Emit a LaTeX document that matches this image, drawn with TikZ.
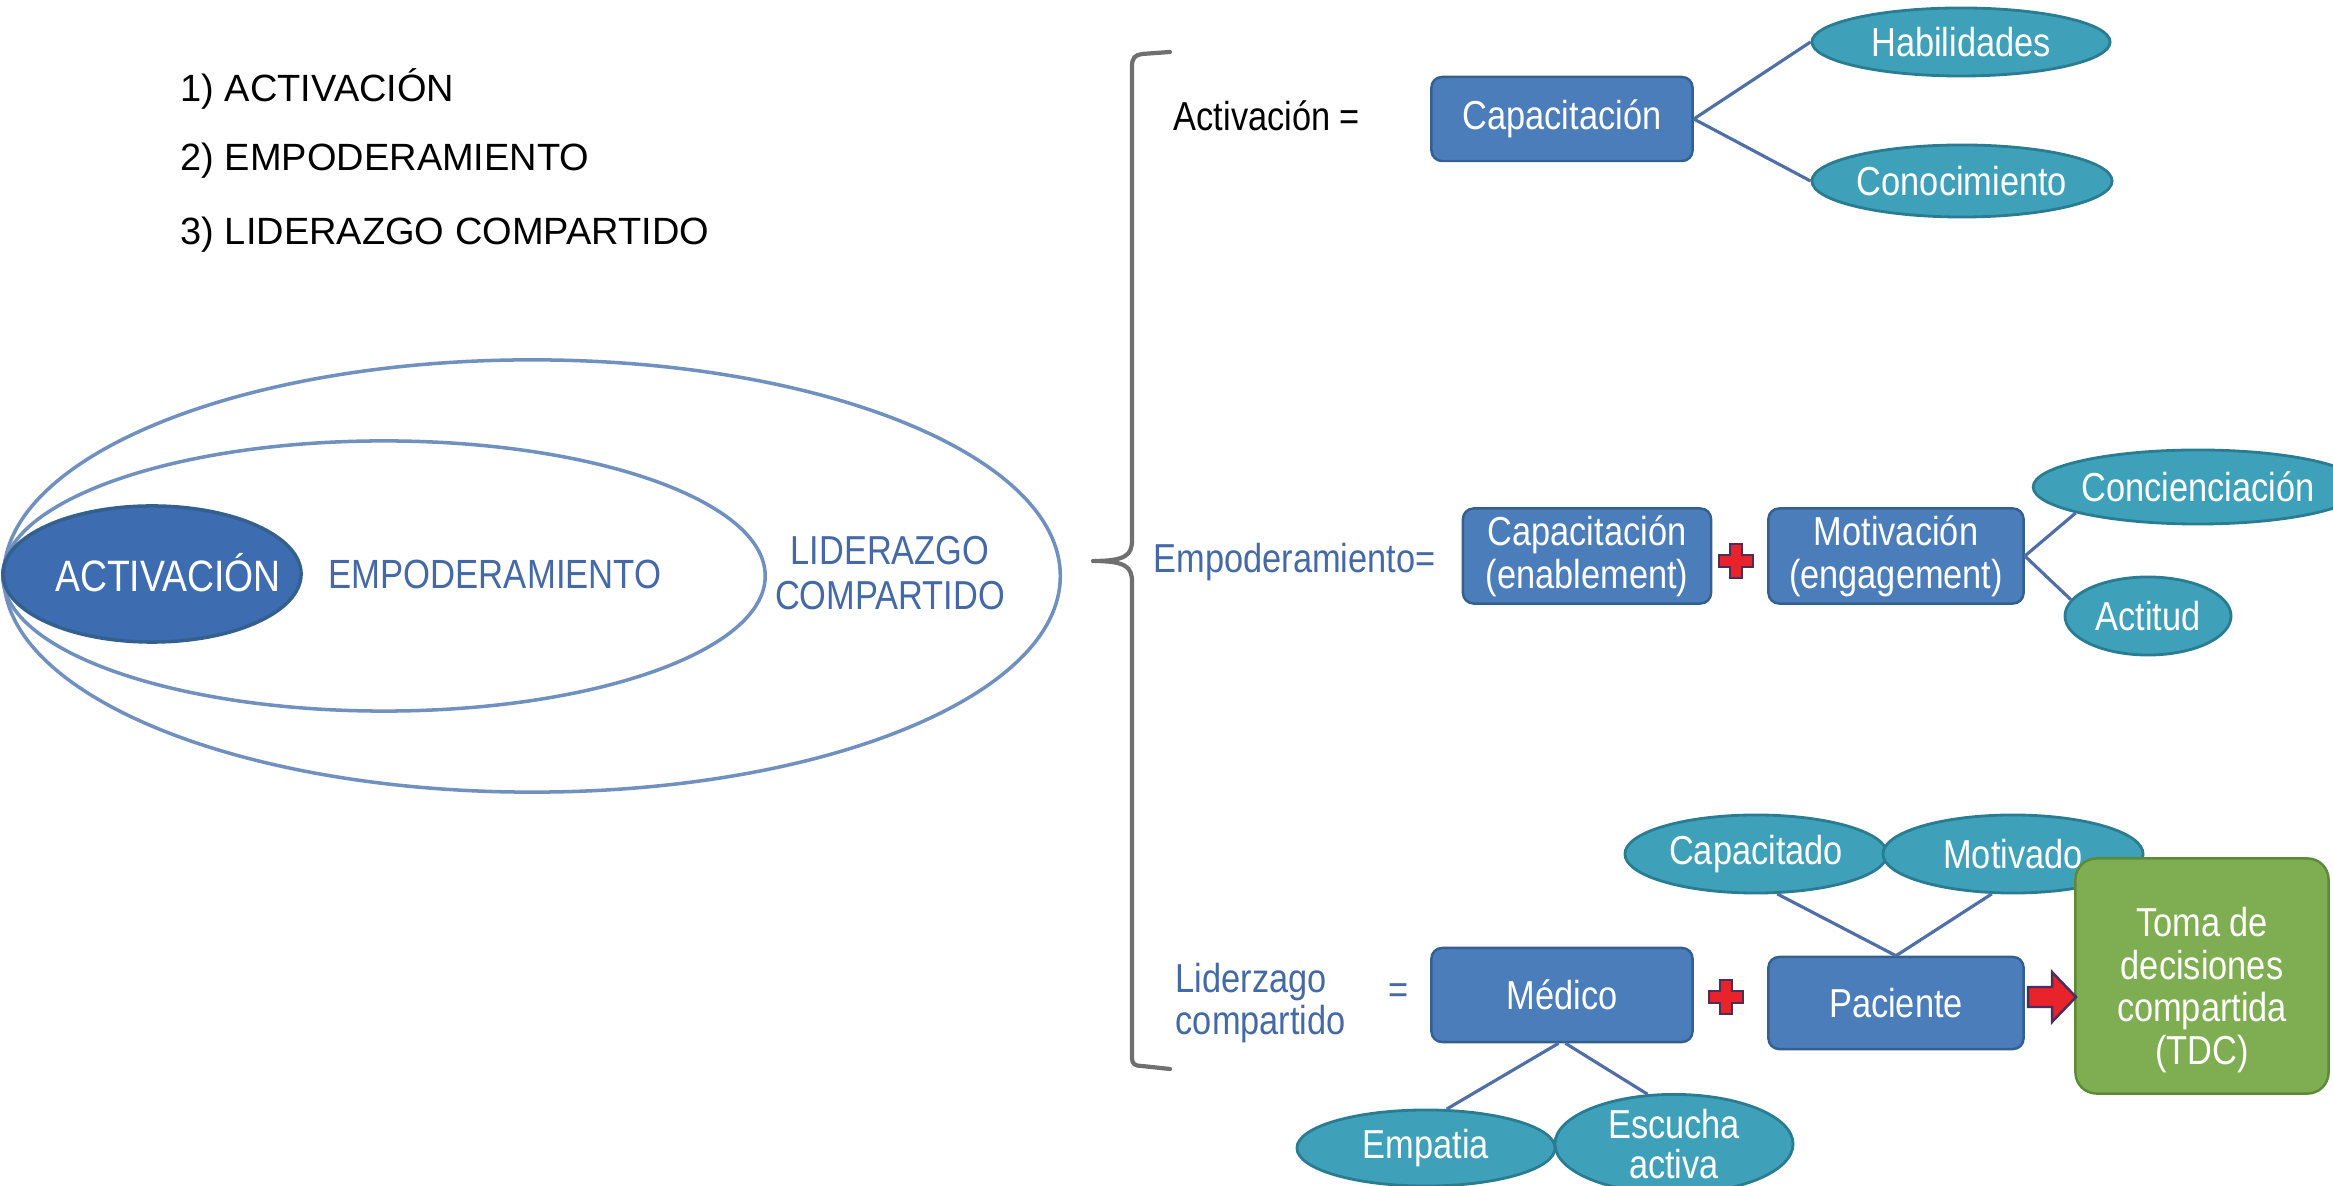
\documentclass[tikz,border=0pt]{standalone}
\usepackage{fontspec}
\setmainfont{Liberation Sans}
\newfontfamily\nf{Liberation Sans}[FakeStretch=0.85]
\usetikzlibrary{shapes.geometric}
\definecolor{boxblue}{HTML}{4A7DBA}
\definecolor{boxedge}{HTML}{34608F}
\definecolor{tealfill}{HTML}{3FA1B9}
\definecolor{tealedge}{HTML}{2A7C92}
\definecolor{linec}{HTML}{4F6FA6}
\definecolor{ringc}{HTML}{7090BF}
\definecolor{actfill}{HTML}{3D6CB0}
\definecolor{txtblue}{HTML}{4469A6}
\definecolor{greenfill}{HTML}{7FAE52}
\definecolor{greenedge}{HTML}{5C8A38}
\definecolor{bracec}{HTML}{707070}
\definecolor{plusred}{HTML}{E8232B}
\definecolor{plusedge}{HTML}{4A2F5C}
\tikzset{
  rfont/.style={font=\nf\fontsize{11.5}{12.3}\selectfont},
  bluebox/.style={rectangle, draw=boxedge, line width=0.7pt, fill=boxblue, rounded corners=3pt,
    text=white, rfont, align=center, inner sep=0pt},
  greenbox/.style={bluebox, draw=greenedge, fill=greenfill},
  tealell/.style={ellipse, draw=tealedge, line width=0.8pt, fill=tealfill, text=white, rfont,
    align=center, inner sep=0pt},
  ring/.style={ellipse, draw=ringc, line width=1pt, inner sep=0pt},
  link/.style={draw=linec, line width=0.9pt},
  plusst/.style={fill=plusred, draw=plusedge, line width=0.7pt, line join=miter},
  listtxt/.style={anchor=west, font=\fontsize{10.8}{12}\selectfont, inner sep=0pt},
  bluetxt/.style={text=txtblue, rfont, inner sep=0pt}
}
\begin{document}
\begin{tikzpicture}[x=0.01cm,y=-0.01cm]
\useasboundingbox (0,0) rectangle (2333,1186);
% list
\node[listtxt] (l1) at (180,89) {1) ACTIVACIÓN};
\node[listtxt] (l2) at (180,161) {2) EMPODERAMIENTO};
\node[listtxt] (l3) at (180,235) {3) LIDERAZGO COMPARTIDO};
% rings
\node[ring, minimum width=10.56cm, minimum height=4.32cm] (ringL) at (532,576) {};
\node[ring, minimum width=7.62cm, minimum height=2.70cm] (ringE) at (384,576) {};
\node[ring, fill=actfill, draw=boxedge, minimum width=2.98cm, minimum height=1.36cm] (ringA) at (152,574) {};
\node[text=white, font=\nf\fontsize{12.5}{14}\selectfont, inner sep=0pt] (tA) at (168,573) {ACTIVACIÓN};
\node[bluetxt, font=\nf\fontsize{11.6}{14}\selectfont] (tE) at (495,574) {EMPODERAMIENTO};
\node[bluetxt, font=\nf\fontsize{11.5}{12.8}\selectfont, align=center] (tL) at (890,573) {LIDERAZGO\\COMPARTIDO};
% brace
\draw[bracec, line width=1.2pt, line join=round, line cap=round]
  (1170,52) -- (1142,54) .. controls (1135,55) and (1132,58) .. (1132,66) -- (1132,540)
  .. controls (1132,555) and (1126,561) .. (1093,561)
  .. controls (1126,561) and (1132,567) .. (1132,582)
  -- (1132,1058) .. controls (1132,1064) and (1135,1066) .. (1142,1066) -- (1170,1069);
% row 1
\node[anchor=west, rfont, inner sep=0pt] (ract) at (1173,116) {Activación =};
\node[bluebox, minimum width=2.61cm, minimum height=0.84cm] (cap1) at (1562,119) {Capacitación};
\node[tealell, minimum width=2.98cm, minimum height=0.68cm] (hab) at (1961,42) {Habilidades};
\node[tealell, minimum width=3.0cm, minimum height=0.72cm] (con) at (1962,181) {Conocimiento};
\draw[link] (cap1.east) -- (hab.west);
\draw[link] (cap1.east) -- (con.west);
% row 2
\node[bluetxt, anchor=west] (remp) at (1153,562) {Empoderamiento=};
\node[bluebox, minimum width=2.48cm, minimum height=0.95cm] (cap2) at (1587,556) {Capacitación\\(enablement)};
\node[bluebox, minimum width=2.55cm, minimum height=0.95cm] (mot) at (1896,556) {Motivación\\(engagement)};
\node[tealell, minimum width=2.66cm, minimum height=0.74cm] (conc) at (2198,487) {Concienciación};
\node[tealell, minimum width=1.66cm, minimum height=0.78cm] (act) at (2148,616) {Actitud};
\draw[link] (mot.east) -- (conc.192);
\draw[link] (mot.east) -- (act.168);
\draw[plusst, shift={(1736,561)}] (-6,-17) -- (6,-17) -- (6,-6) -- (17,-6) -- (17,6) -- (6,6)
  -- (6,17) -- (-6,17) -- (-6,6) -- (-17,6) -- (-17,-6) -- (-6,-6) -- cycle;
% row 3
\node[tealell, minimum width=2.62cm, minimum height=0.78cm] (capd) at (1756,854) {Capacitado};
\node[tealell, minimum width=2.60cm, minimum height=0.78cm] (motd) at (2013,854) {Motivado};
\node[bluetxt, anchor=west, align=left, font=\nf\fontsize{11.5}{11.8}\selectfont] (rlid) at (1175,1003) {Liderzago\\compartido};
\node[bluetxt] (req) at (1399,994) {=};
\node[bluebox, minimum width=2.61cm, minimum height=0.94cm] (med) at (1562,995) {Médico};
\node[bluebox, minimum width=2.55cm, minimum height=0.92cm] (pac) at (1896,1003) {Paciente};
\node[greenbox, minimum width=2.53cm, minimum height=2.35cm, rounded corners=6pt] (tdc) at (2202,976) {};
\node[text=white, align=center, font=\nf\fontsize{11.5}{12.2}\selectfont, inner sep=0pt] (tdct) at (2202,990) {Toma de\\decisiones\\compartida\\(TDC)};
\node[tealell, minimum width=2.58cm, minimum height=0.76cm] (emp) at (1426,1148) {Empatia};
\node[tealell, minimum width=2.38cm, minimum height=0.84cm, font=\nf\fontsize{11.5}{11.5}\selectfont] (esc) at (1674,1144) {Escucha\\activa};
\draw[link] (pac.north) -- (capd.-62);
\draw[link] (pac.north) -- (motd.-118);
\draw[link] (med.-94) -- (emp.62);
\draw[link] (med.-86) -- (esc.118);
\draw[plusst, shift={(1726,997)}] (-6,-17) -- (6,-17) -- (6,-6) -- (17,-6) -- (17,6) -- (6,6)
  -- (6,17) -- (-6,17) -- (-6,6) -- (-17,6) -- (-17,-6) -- (-6,-6) -- cycle;
\coordinate (arrS) at (2028,997);
\draw[plusst, shift={(arrS)}] (0,-10) -- (24,-10) -- (24,-25) -- (48,0) -- (24,25) -- (24,10) -- (0,10) -- cycle;
\end{tikzpicture}
\end{document}
